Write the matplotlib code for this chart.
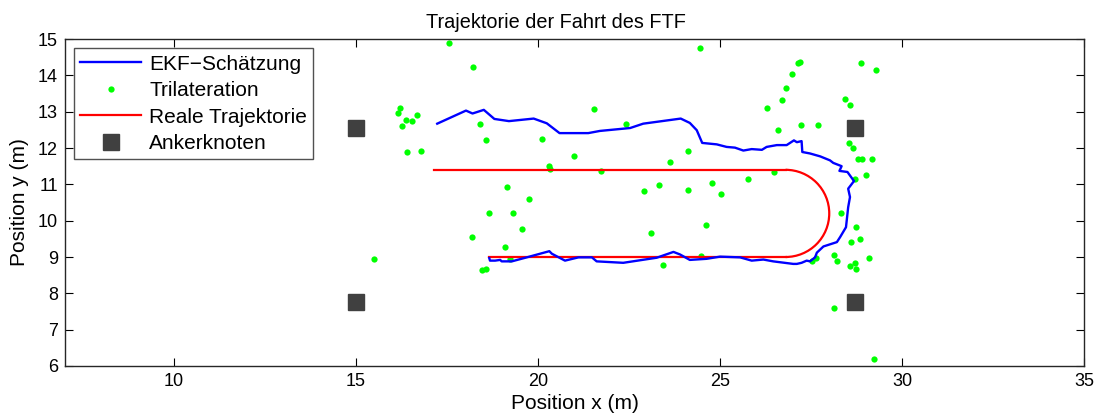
import matplotlib
matplotlib.use("Agg")
import matplotlib.pyplot as plt
from matplotlib.patches import Arc

plt.rcParams['font.family'] = ['Liberation Sans', 'DejaVu Sans']

# EKF estimate (blue)
ekf_x = [17.23, 18.02, 18.20, 18.51, 18.80, 19.20, 19.88, 20.24, 20.59, 21.38, 21.70,
         22.53, 22.89, 23.92, 24.17, 24.36, 24.51, 24.91, 25.18, 25.41, 25.64, 25.87,
         26.15, 26.28, 26.56, 26.83, 27.03, 27.11, 27.24, 27.26, 27.47, 27.75, 28.02,
         28.11, 28.34, 28.28, 28.50, 28.68, 28.52, 28.57, 28.52, 28.46, 28.30, 28.21,
         27.84, 27.66, 27.61, 27.47, 27.38, 27.24, 27.11, 27.01, 26.46, 26.19, 25.87,
         25.55, 25.00, 24.63, 24.17, 23.90, 23.72, 23.26, 22.34, 21.61, 21.48, 21.11,
         20.74, 20.38, 20.31, 19.69, 19.28, 19.00, 18.96, 18.82, 18.68, 18.66]
ekf_y = [12.67, 13.03, 12.95, 13.05, 12.80, 12.74, 12.81, 12.68, 12.41, 12.41, 12.47,
         12.55, 12.67, 12.81, 12.69, 12.49, 12.14, 12.10, 12.03, 12.01, 11.93, 11.97,
         11.95, 12.03, 12.08, 12.08, 12.21, 12.16, 12.19, 11.89, 11.85, 11.77, 11.66,
         11.59, 11.50, 11.37, 11.34, 11.09, 10.88, 10.65, 10.37, 9.82, 9.55, 9.41,
         9.29, 9.12, 8.99, 8.88, 8.90, 8.84, 8.81, 8.81, 8.88, 8.93, 8.90,
         8.99, 9.01, 8.95, 8.92, 9.07, 9.14, 8.98, 8.84, 8.88, 8.99, 8.99,
         8.90, 9.09, 9.16, 8.99, 8.88, 8.88, 8.92, 8.90, 8.90, 8.97]

# Trilateration points (green)
tri_x = [17.55, 18.21, 16.22, 16.16, 16.37, 16.55, 16.68, 16.26, 16.40, 16.78,
         18.41, 18.58, 20.12, 20.31, 20.33, 20.99, 21.55, 24.46, 22.42, 24.13,
         23.63, 21.74, 25.78, 26.49, 26.30, 26.70, 26.81, 26.97, 27.15, 27.20,
         26.59, 27.22, 27.68, 28.88, 29.29, 28.44, 28.57, 28.55, 28.64, 28.78,
         28.89, 29.17, 29.00, 28.71, 28.33, 28.74, 28.85, 28.60, 29.08, 28.13,
         28.21, 27.52, 27.64, 28.57, 28.72, 28.73, 28.14, 29.23, 19.14, 19.75,
         18.66, 19.30, 19.57, 18.19, 19.09, 19.23, 18.45, 18.56, 22.90, 23.32,
         24.13, 24.77, 25.02, 23.09, 24.62, 24.47, 23.44, 15.48]
tri_y = [14.90, 14.22, 13.09, 12.97, 12.77, 12.74, 12.90, 12.60, 11.88, 11.91,
         12.66, 12.21, 12.24, 11.50, 11.43, 11.79, 13.06, 14.75, 12.65, 11.92,
         11.61, 11.38, 11.14, 11.33, 13.10, 13.32, 13.64, 14.03, 14.33, 14.37,
         12.49, 12.63, 12.62, 14.34, 14.14, 13.34, 13.19, 12.14, 11.99, 11.70,
         11.69, 11.70, 11.25, 11.15, 10.21, 9.83, 9.50, 9.40, 8.98, 9.06,
         8.90, 8.90, 8.98, 8.75, 8.84, 8.67, 7.60, 6.19, 10.93, 10.61,
         10.21, 10.21, 9.78, 9.54, 9.28, 8.95, 8.65, 8.67, 10.83, 10.97,
         10.84, 11.03, 10.73, 9.65, 9.87, 9.02, 8.77, 8.94]

# Real trajectory (red): two straight legs joined by a half circle
real_top_x = [17.15, 26.8]
real_top_y = [11.4, 11.4]
real_bot_x = [26.8, 18.65]
real_bot_y = [9.0, 9.0]
arc_center = (26.8, 10.2)
arc_radius = 1.2

# Anchor nodes
anchor_x = [15.0, 15.0, 28.7, 28.7]
anchor_y = [12.55, 7.75, 12.55, 7.75]

fig = plt.figure(figsize=(11.01, 4.19), dpi=100)
ax = fig.add_axes([0.0589, 0.1265, 0.9257, 0.7804])

l1, = ax.plot(ekf_x, ekf_y, color='#0000ff', lw=1.7, label='EKF−Schätzung', zorder=3)
l2, = ax.plot(tri_x, tri_y, ls='none', marker='o', ms=4.5, color='#00ff00',
              markeredgewidth=0, label='Trilateration', zorder=2)
l3, = ax.plot(real_top_x, real_top_y, color='#ff0000', lw=1.6, label='Reale Trajektorie')
ax.plot(real_bot_x, real_bot_y, color='#ff0000', lw=1.6)
ax.add_patch(Arc(arc_center, 2 * arc_radius, 2 * arc_radius, theta1=-90, theta2=90,
                 color='#ff0000', lw=1.6))
l4, = ax.plot(anchor_x, anchor_y, ls='none', marker='s', ms=11.5, color='#404040',
              label='Ankerknoten')

ax.set_xlim(7, 35)
ax.set_ylim(6, 15)
ax.set_xticks([10, 15, 20, 25, 30, 35])
ax.set_yticks(range(6, 16))
ax.tick_params(direction='in', top=True, right=True, labelsize=13, length=6, width=0.8,
               pad=5)
for s in ax.spines.values():
    s.set_linewidth(1.0)
    s.set_color('#262626')

ax.set_xlabel('Position x (m)', fontsize=15, labelpad=3)
ax.set_ylabel('Position y (m)', fontsize=15, labelpad=6)
ax.set_title('Trajektorie der Fahrt des FTF', fontsize=14.3, pad=8, x=0.482)

leg = ax.legend(handles=[l1, l2, l3, l4], loc='upper left', fontsize=15,
                frameon=True, fancybox=False, edgecolor='#262626',
                borderaxespad=0.45, handlelength=2.9, labelspacing=0.36,
                borderpad=0.3, handletextpad=0.4)
leg.get_frame().set_linewidth(1.0)

fig.savefig('out.png', dpi=100)
